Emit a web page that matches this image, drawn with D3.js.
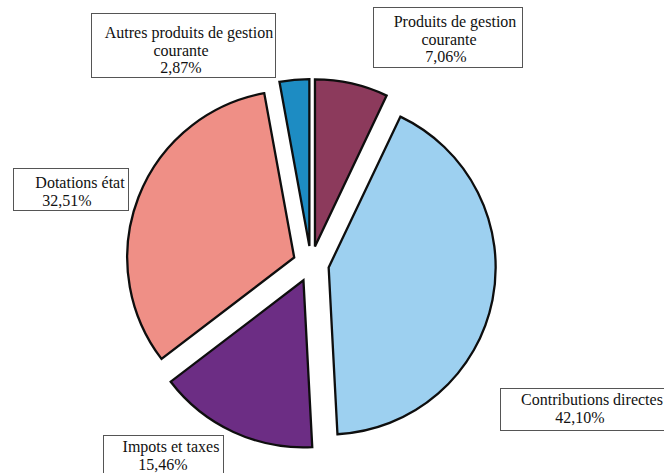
<!DOCTYPE html>
<html><head><meta charset="utf-8">
<script src="https://cdn.jsdelivr.net/npm/d3@7"></script>
<style>
html,body{margin:0;padding:0;background:#fff;}
svg{display:block;}
</style></head>
<body>
<script>
// ---- data ----
const categories = ["Produits de gestion courante","Contributions directes","Impots et taxes","Dotations état","Autres produits de gestion courante"];
const values = [7.06, 42.10, 15.46, 32.51, 2.87];
const valueLabels = ["7,06%","42,10%","15,46%","32,51%","2,87%"];
const labelLines = [
  ["Produits de gestion","courante"],
  ["Contributions directes"],
  ["Impots et taxes"],
  ["Dotations état"],
  ["Autres produits de gestion","courante"]
];
const colors = ["#8c3a5c","#9dd0f0","#6c2d84","#ef8f86","#1d8cc3"];

// ---- layout ----
const W = 664, H = 473;
const cx = 311, cy = 264, R = 167, explode = 18;
const boxes = [
  {x:373,y:7,w:149,h:60,base:27,cxs:[455,449,446]},
  {x:500,y:388,w:170,h:42,base:405,cxs:[592,580]},
  {x:103,y:435,w:120,h:50,base:452,cxs:[171,163]},
  {x:13,y:168,w:115,h:42,base:188,cxs:[80,67]},
  {x:91,y:13,w:184,h:64,base:38,cxs:[189,181,181]}
];
const lineH = 17.5;
const FONT = "'Liberation Serif', 'DejaVu Serif', 'Times New Roman', Times, serif";

const svg = d3.select("body").append("svg").attr("width",W).attr("height",H);

const pie = d3.pie().sort(null).value(d=>d).startAngle(0).endAngle(2*Math.PI);
const arcs = pie(values);
const arc = d3.arc().innerRadius(0).outerRadius(R);

const g = svg.append("g").attr("transform",`translate(${cx},${cy})`);
g.selectAll("path").data(arcs).join("path")
  .attr("d",arc)
  .attr("transform",d=>{
    const a=(d.startAngle+d.endAngle)/2;
    return `translate(${explode*Math.sin(a)},${-explode*Math.cos(a)})`;
  })
  .attr("fill",(d,i)=>colors[i])
  .attr("stroke","#0e0e0e")
  .attr("stroke-width",2.3)
  .attr("stroke-linejoin","miter");

const lg = svg.append("g");
categories.forEach((c,i)=>{
  const b = boxes[i];
  lg.append("rect").attr("x",b.x+0.5).attr("y",b.y+0.5).attr("width",b.w).attr("height",b.h)
    .attr("fill","#fff").attr("stroke","#555").attr("stroke-width",1);
  const lines = labelLines[i].concat([valueLabels[i]]);
  lines.forEach((t,j)=>{
    lg.append("text").attr("x",b.cxs[j]).attr("y",b.base+j*lineH)
      .attr("text-anchor","middle")
      .attr("font-family",FONT).attr("font-size","16px").attr("fill","#111")
      .text(t);
  });
});
</script>
</body></html>
